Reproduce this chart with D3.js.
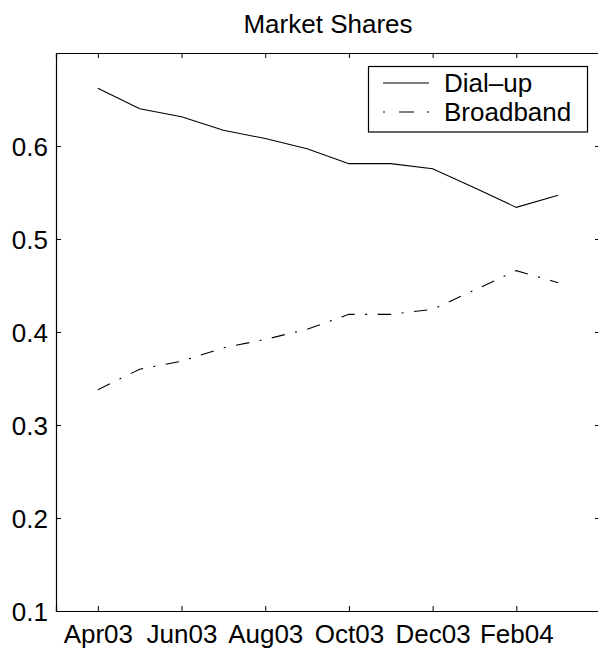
<!DOCTYPE html>
<html>
<head>
<meta charset="utf-8">
<script src="https://cdn.jsdelivr.net/npm/d3@7"></script>
<style>
  html, body { margin: 0; padding: 0; background: #fff; }
  svg { display: block; font-family: "Liberation Sans", Arial, Helvetica, sans-serif; }
</style>
</head>
<body>
<svg id="chart" width="598" height="656"></svg>
<script>
// ---- data ----
const months = ["Apr03","May03","Jun03","Jul03","Aug03","Sep03","Oct03","Nov03","Dec03","Jan04","Feb04","Mar04"];
const dialup = [0.662, 0.640, 0.6315, 0.617, 0.608, 0.597, 0.581, 0.581, 0.5756, 0.555, 0.534, 0.547];
const broadband = [0.338, 0.360, 0.3685, 0.383, 0.392, 0.403, 0.419, 0.419, 0.4244, 0.445, 0.466, 0.453];
const xTickIdx = [0, 2, 4, 6, 8, 10];
const yTicks = [0.1, 0.2, 0.3, 0.4, 0.5, 0.6];
const seriesNames = ["Dial\u2013up", "Broadband"];
const title = "Market Shares";

// ---- layout ----
const L = 56, R = 600, T = 53, B = 611;
const FS = 26;
const svg = d3.select("#chart");

const x = d3.scaleLinear().domain([-1, 12]).range([L, R]);
const y = d3.scaleLinear().domain([0.1, 0.7]).range([B, T]);

// axes
const gB = svg.append("g").attr("transform", `translate(0,${B})`)
  .call(d3.axisBottom(x).tickValues(xTickIdx).tickFormat(i => months[i]).tickSize(-5).tickPadding(14));
const gT = svg.append("g").attr("transform", `translate(0,${T})`)
  .call(d3.axisTop(x).tickValues(xTickIdx).tickFormat("").tickSize(-5));
const gL = svg.append("g").attr("transform", `translate(${L},0)`)
  .call(d3.axisLeft(y).tickValues(yTicks).tickFormat(d3.format(".1f")).tickSize(-5).tickPadding(8));
const gR = svg.append("g").attr("transform", `translate(${R},0)`)
  .call(d3.axisRight(y).tickValues(yTicks).tickFormat("").tickSize(-5));

[gB, gT, gL, gR].forEach(g => {
  g.select(".domain").attr("stroke", "#000").attr("stroke-width", 1.2);
  g.selectAll(".tick line").attr("stroke", "#000").attr("stroke-width", 1);
  g.selectAll(".tick text").attr("fill", "#000").style("font-size", FS + "px")
    .style("font-family", '"Liberation Sans", Arial, Helvetica, sans-serif');
});
gL.selectAll(".tick text").attr("dy", "0.35em");

// lines
const line = d3.line().x((d, i) => x(i)).y(d => y(d));
svg.append("path").datum(dialup).attr("d", line)
  .attr("fill", "none").attr("stroke", "#000").attr("stroke-width", 1.1);
svg.append("path").datum(broadband).attr("d", line)
  .attr("fill", "none").attr("stroke", "#000").attr("stroke-width", 1.1)
  .attr("stroke-dasharray", "13.5,10.5,2,10.5");

// title
svg.append("text").attr("x", (L + R) / 2).attr("y", 33).attr("text-anchor", "middle")
  .style("font-size", FS + "px").attr("fill", "#000").text(title);

// legend
const lg = svg.append("g");
lg.append("rect").attr("x", 368.5).attr("y", 66.5).attr("width", 219).attr("height", 65.5)
  .attr("fill", "#fff").attr("stroke", "#000").attr("stroke-width", 1.2);
const legY = [83, 112];
const dashes = [null, "2,14,15,13,2,100"];
seriesNames.forEach((name, i) => {
  const ln = lg.append("line").attr("x1", 383).attr("x2", 429).attr("y1", legY[i]).attr("y2", legY[i])
    .attr("stroke", "#000").attr("stroke-width", 1.1);
  if (dashes[i]) ln.attr("stroke-dasharray", dashes[i]);
  lg.append("text").attr("x", 444).attr("y", legY[i]).attr("dy", "0.36em")
    .style("font-size", FS + "px").attr("fill", "#000").text(name);
});
</script>
</body>
</html>
